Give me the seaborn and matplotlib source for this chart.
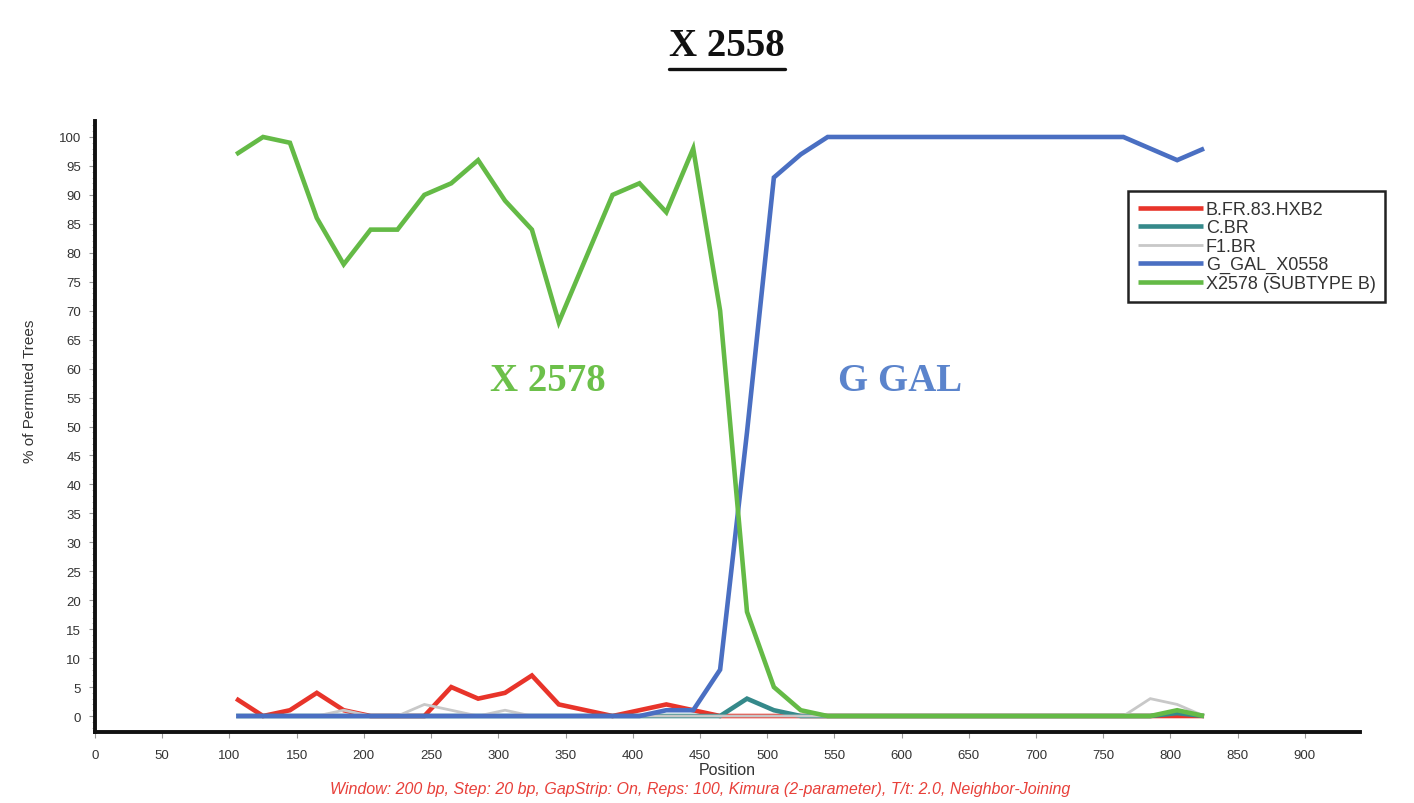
import numpy as np
import pandas as pd
import matplotlib
matplotlib.use("Agg")
import matplotlib.pyplot as plt
from matplotlib.lines import Line2D
from matplotlib.ticker import MultipleLocator
import seaborn as sns

# ---- data ----
positions = [105, 125, 145, 165, 185, 205, 225, 245, 265, 285, 305, 325, 345,
             365, 385, 405, 425, 445, 465, 485, 505, 525, 545, 565, 585, 605,
             625, 645, 665, 685, 705, 725, 745, 765, 785, 805, 825]

b_fr_83_hxb2 = [3, 0, 1, 4, 1, 0, 0, 0, 5, 3, 4, 7, 2, 1, 0, 1, 2, 1, 0,
                0, 0, 0, 0, 0, 0, 0, 0, 0, 0, 0, 0, 0, 0, 0, 0, 0, 0]
c_br = [0, 0, 0, 0, 0, 0, 0, 0, 0, 0, 0, 0, 0, 0, 0, 0, 0, 0, 0,
        3, 1, 0, 0, 0, 0, 0, 0, 0, 0, 0, 0, 0, 0, 0, 0, 0.5, 0]
f1_br = [0, 0, 0, 0, 1, 0, 0, 2, 1, 0, 1, 0, 0, 0, 0, 0, 0, 0, 0,
         0, 0, 0, 0, 0, 0, 0, 0, 0, 0, 0, 0, 0, 0, 0, 3, 2, 0]
g_gal_x0558 = [0, 0, 0, 0, 0, 0, 0, 0, 0, 0, 0, 0, 0, 0, 0, 0, 1, 1, 8,
               49, 93, 97, 100, 100, 100, 100, 100, 100, 100, 100, 100, 100,
               100, 100, 98, 96, 98]
x2578 = [97, 100, 99, 86, 78, 84, 84, 90, 92, 96, 89, 84, 68, 79, 90, 92, 87,
         98, 70, 18, 5, 1, 0, 0, 0, 0, 0, 0, 0, 0, 0, 0, 0, 0, 0, 1, 0]

series_names = ["B.FR.83.HXB2", "C.BR", "F1.BR", "G_GAL_X0558", "X2578 (SUBTYPE B)"]
series_values = [b_fr_83_hxb2, c_br, f1_br, g_gal_x0558, x2578]
series_colors = ["#e8342a", "#35898a", "#c8c8c8", "#4a6fc2", "#64ba46"]
series_widths = [3.3, 3.3, 2.0, 3.3, 3.3]

x_ticks = list(range(0, 901, 50))
y_ticks = list(range(0, 101, 5))

title_text = "X 2558"
label_green = "X 2578"
label_blue = "G GAL"
caption = ("Window: 200 bp, Step: 20 bp, GapStrip: On, Reps: 100, "
           "Kimura (2-parameter), T/t: 2.0, Neighbor-Joining")

# ---- build long-form table ----
frames = []
for name, vals in zip(series_names, series_values):
    frames.append(pd.DataFrame({"Position": positions, "value": vals, "series": name}))
df = pd.concat(frames, ignore_index=True)

sns.set_style("ticks")
plt.rcParams["font.family"] = ["Liberation Sans", "DejaVu Sans"]

W, H = 1414, 804
fig = plt.figure(figsize=(W / 100, H / 100), dpi=100)
ax = fig.add_axes([95 / W, (H - 733) / H, (1360 - 95) / W, (733 - 122) / H])

palette = dict(zip(series_names, series_colors))
for name, lw in zip(series_names, series_widths):
    sns.lineplot(data=df[df["series"] == name], x="Position", y="value",
                 color=palette[name], linewidth=lw, ax=ax, label=name,
                 solid_joinstyle="miter", solid_capstyle="butt")

ax.set_xlim(0, 941)
ax.set_ylim(-2.76, 102.76)
ax.set_xticks(x_ticks)
ax.set_yticks(y_ticks)
ax.yaxis.set_minor_locator(MultipleLocator(1))
ax.tick_params(axis="both", which="major", labelsize=9.5, labelcolor="#333333",
               color="#999999", length=4, width=0.8)
ax.tick_params(axis="y", which="major", pad=6)
ax.tick_params(axis="y", which="minor", length=2, color="#aaaaaa", width=0.6)
ax.tick_params(axis="x", which="major", pad=8)

for s in ["top", "right"]:
    ax.spines[s].set_visible(False)
for s in ["left", "bottom"]:
    ax.spines[s].set_linewidth(2.8)
    ax.spines[s].set_color("#111111")

ax.set_xlabel("Position", fontsize=11.5, color="#333333", labelpad=1)
ax.set_ylabel("% of Permuted Trees", fontsize=11, color="#333333")
ax.yaxis.set_label_coords(-0.046, 0.56)

# in-plot labels
ax.text(337, 58, label_green, color="#6cc04a", fontsize=28, fontweight="bold",
        family="Liberation Serif", ha="center", va="center")
ax.text(599, 58, label_blue, color="#5b84cc", fontsize=28, fontweight="bold",
        family="Liberation Serif", ha="center", va="center")

# legend
leg = ax.legend(loc="upper left", bbox_to_anchor=(1128 / W, 1 - 192 / H),
                bbox_transform=fig.transFigure, borderaxespad=0,
                fontsize=13, frameon=True, fancybox=False, shadow=False,
                handlelength=3.6, handletextpad=0.15, labelspacing=0.08,
                borderpad=0.55, framealpha=1)
leg.get_frame().set_edgecolor("#222222")
leg.get_frame().set_linewidth(1.8)
for t in leg.get_texts():
    t.set_color("#333333")

# title with underline
tt = fig.text(727 / W, 1 - 47 / H, title_text, fontsize=28, fontweight="bold",
              family="Liberation Serif", ha="center", va="center", color="#111111")
fig.canvas.draw()
bb = tt.get_window_extent(renderer=fig.canvas.get_renderer())
uy = (bb.y0 - 4) / H
fig.add_artist(Line2D([bb.x0 / W, bb.x1 / W], [uy, uy], transform=fig.transFigure,
                      color="#111111", linewidth=2.4))

# caption
fig.text(700 / W, 1 - 790 / H, caption, fontsize=11.5, style="italic",
         color="#e8403a", ha="center", va="center")

fig.savefig("out.png", dpi=100)
